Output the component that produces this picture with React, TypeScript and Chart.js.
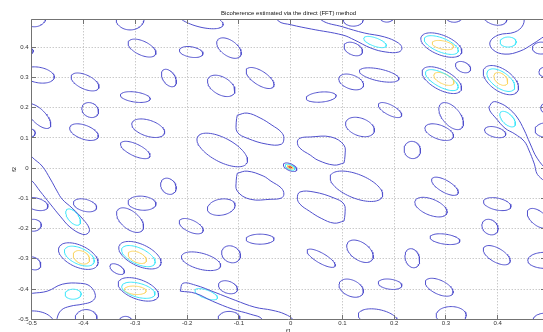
import React, { useEffect, useRef } from "react";
import { Chart, registerables } from "chart.js";

Chart.register(...registerables);

const TITLE = "Bicoherence estimated via the direct (FFT) method";
const X_LABEL = "f1";
const Y_LABEL = "f2";

const X_MIN = -0.5;
const X_MAX = 0.4922;
const Y_MIN = -0.5;
const Y_MAX = 0.4922;

const X_TICKS = [-0.5, -0.4, -0.3, -0.2, -0.1, 0, 0.1, 0.2, 0.3, 0.4];
const X_TICK_LABELS = ["-0.5", "-0.4", "-0.3", "-0.2", "-0.1", "0", "0.1", "0.2", "0.3", "0.4"];
const Y_TICKS = [-0.5, -0.4, -0.3, -0.2, -0.1, 0, 0.1, 0.2, 0.3, 0.4];
const Y_TICK_LABELS = ["-0.5", "-0.4", "-0.3", "-0.2", "-0.1", "0", "0.1", "0.2", "0.3", "0.4"];

// contour level colours (lowest -> highest)
const LEVEL_COLORS = ["rgb(80,80,205)", "rgb(60,230,250)", "rgb(250,212,95)", "rgb(205,45,35)"];

// elliptical contours: [centre f1, centre f2, semi-major, semi-minor (f1 units), tilt deg]
const LEVEL1_ELLIPSES = [
  [-0.495, 0.5, 0.023, 0.019, 0],
  [-0.505, 0.387, 0.008, 0.006, 0],
  [-0.31, 0.493, 0.027, 0.021, 0],
  [-0.287, 0.397, 0.029, 0.0135, 25],
  [-0.192, 0.384, 0.023, 0.01, 10],
  [-0.175, 0.493, 0.046, 0.015, 15],
  [-0.119, 0.397, 0.027, 0.015, 35],
  [-0.059, 0.298, 0.031, 0.0135, 33],
  [-0.487, 0.308, 0.031, 0.015, 10],
  [-0.397, 0.285, 0.029, 0.0135, 25],
  [-0.235, 0.298, 0.019, 0.0115, 55],
  [-0.134, 0.272, 0.029, 0.017, 30],
  [-0.3, 0.235, 0.029, 0.0097, 8],
  [-0.387, 0.192, 0.017, 0.0135, 30],
  [-0.487, 0.172, 0.031, 0.0135, 45],
  [-0.399, 0.119, 0.029, 0.0135, 20],
  [-0.275, 0.132, 0.033, 0.0155, 18],
  [-0.503, 0.116, 0.0097, 0.008, 0],
  [-0.3, 0.06, 0.031, 0.0116, 25],
  [-0.132, 0.06, 0.054, 0.023, 28],
  [0.121, 0.49, 0.019, 0.012, 0],
  [0.186, 0.5, 0.0135, 0.01, 0],
  [0.316, 0.503, 0.017, 0.012, 0],
  [0.395, 0.497, 0.023, 0.0135, 15],
  [0.121, 0.394, 0.019, 0.0115, 25],
  [0.291, 0.407, 0.042, 0.019, 22],
  [0.333, 0.334, 0.0155, 0.0097, 25],
  [0.292, 0.291, 0.042, 0.019, 28],
  [0.406, 0.291, 0.039, 0.021, 35],
  [0.484, 0.397, 0.017, 0.0115, 0],
  [0.493, 0.318, 0.0135, 0.0097, 0],
  [0.117, 0.285, 0.025, 0.0135, 20],
  [0.171, 0.308, 0.039, 0.0115, 12],
  [0.059, 0.235, 0.029, 0.0097, -5],
  [0.192, 0.192, 0.025, 0.0097, 28],
  [0.134, 0.136, 0.029, 0.017, 20],
  [0.31, 0.172, 0.031, 0.017, 50],
  [0.287, 0.119, 0.029, 0.0135, 20],
  [0.395, 0.119, 0.021, 0.0097, 15],
  [0.491, 0.126, 0.019, 0.0135, 0],
  [0.495, 0.199, 0.012, 0.01, 0],
  [0.235, 0.06, 0.017, 0.0155, 60],
  [-0.491, -0.119, 0.023, 0.0115, 15],
  [-0.497, -0.189, 0.0155, 0.0115, 0],
  [-0.397, -0.123, 0.023, 0.0115, 15],
  [-0.31, -0.172, 0.031, 0.017, 40],
  [-0.287, -0.116, 0.027, 0.0135, 5],
  [-0.236, -0.06, 0.017, 0.0135, 50],
  [-0.192, -0.192, 0.025, 0.0115, 25],
  [-0.134, -0.129, 0.027, 0.0155, -10],
  [-0.059, -0.235, 0.027, 0.0097, 0],
  [-0.115, -0.285, 0.019, 0.0155, 30],
  [-0.173, -0.308, 0.039, 0.0155, 15],
  [-0.41, -0.291, 0.041, 0.021, 25],
  [-0.291, -0.288, 0.044, 0.021, 25],
  [-0.335, -0.334, 0.0155, 0.008, 30],
  [-0.497, -0.315, 0.0155, 0.0115, 30],
  [-0.507, -0.53, 0.052, 0.033, -10],
  [-0.294, -0.401, 0.041, 0.019, 20],
  [-0.395, -0.497, 0.021, 0.017, 0],
  [-0.319, -0.51, 0.0135, 0.0115, 0],
  [-0.121, -0.394, 0.019, 0.0115, 20],
  [-0.119, -0.497, 0.021, 0.0135, 0],
  [-0.001, 0.003, 0.014, 0.0065, 25],
  [0.127, -0.06, 0.054, 0.023, 22],
  [0.059, -0.298, 0.031, 0.0097, 30],
  [0.134, -0.275, 0.029, 0.017, 35],
  [0.117, -0.397, 0.025, 0.0155, 25],
  [0.192, -0.384, 0.023, 0.0097, 8],
  [0.169, -0.497, 0.039, 0.017, 12],
  [0.235, -0.298, 0.019, 0.0135, 70],
  [0.271, -0.129, 0.033, 0.0155, 22],
  [0.298, -0.06, 0.029, 0.0115, 30],
  [0.298, -0.235, 0.029, 0.0097, 8],
  [0.287, -0.394, 0.029, 0.0135, 25],
  [0.31, -0.487, 0.029, 0.017, 0],
  [0.399, -0.119, 0.027, 0.0115, 12],
  [0.385, -0.195, 0.017, 0.0135, 40],
  [0.398, -0.288, 0.029, 0.0135, 30],
  [0.478, -0.166, 0.025, 0.0135, 40],
  [0.491, -0.305, 0.033, 0.0155, 0],
  [0.491, -0.503, 0.023, 0.0135, 0],
];

const LEVEL2_ELLIPSES = [
  [0.163, 0.417, 0.023, 0.008, 20],
  [0.291, 0.407, 0.035, 0.0135, 22],
  [0.292, 0.291, 0.035, 0.0135, 28],
  [0.406, 0.291, 0.031, 0.0155, 35],
  [0.42, 0.417, 0.0155, 0.0097, 0],
  [0.419, 0.162, 0.019, 0.0097, 45],
  [-0.42, -0.162, 0.019, 0.0097, 50],
  [-0.408, -0.291, 0.031, 0.0155, 25],
  [-0.294, -0.291, 0.035, 0.0155, 25],
  [-0.42, -0.417, 0.0155, 0.0097, 0],
  [-0.294, -0.404, 0.033, 0.0135, 15],
  [-0.163, -0.417, 0.023, 0.008, 20],
  [-0.001, 0.003, 0.01, 0.0045, 25],
];

const LEVEL3_ELLIPSES = [
  [0.294, 0.407, 0.021, 0.008, 12],
  [0.296, 0.295, 0.021, 0.0097, 25],
  [0.406, 0.295, 0.0155, 0.0097, 40],
  [-0.404, -0.295, 0.017, 0.0115, 30],
  [-0.296, -0.295, 0.019, 0.0097, 25],
  [-0.3, -0.404, 0.021, 0.008, 5],
  [-0.001, 0.003, 0.006, 0.003, 25],
];

const LEVEL4_ELLIPSES = [[-0.001, 0.003, 0.003, 0.0015, 25]];

// irregular lowest-level contours as [f1, f2] vertices
const BAND_TOP = [
  [-0.032, 0.523], [-0.024, 0.487], [0.001, 0.474], [0.04, 0.46], [0.101, 0.44], [0.123, 0.424],
  [0.155, 0.397], [0.184, 0.384], [0.209, 0.384], [0.215, 0.397], [0.208, 0.414], [0.181, 0.434],
  [0.142, 0.447], [0.101, 0.467], [0.059, 0.49], [0.053, 0.523],
];
const BAND_TOP_RIGHT = [
  [0.451, 0.51], [0.449, 0.474], [0.433, 0.45], [0.401, 0.44], [0.385, 0.417], [0.391, 0.391],
  [0.414, 0.377], [0.443, 0.387], [0.468, 0.411], [0.491, 0.437], [0.511, 0.457], [0.511, 0.51],
];
const BAND_RIGHT = [
  [0.383, 0.202], [0.391, 0.219], [0.404, 0.215], [0.42, 0.199], [0.437, 0.169], [0.451, 0.126],
  [0.462, 0.083], [0.476, 0.033], [0.497, -0.007], [0.52, -0.023], [0.511, -0.056], [0.479, -0.026],
  [0.47, 0.017], [0.46, 0.06], [0.451, 0.089], [0.433, 0.113], [0.414, 0.132], [0.396, 0.166],
  [0.385, 0.189],
];
const BAND_LEFT = [
  [-0.513, 0.066], [-0.499, 0.036], [-0.48, 0.007], [-0.464, -0.036], [-0.451, -0.076],
  [-0.441, -0.103], [-0.422, -0.132], [-0.401, -0.169], [-0.389, -0.199], [-0.391, -0.215],
  [-0.402, -0.219], [-0.426, -0.195], [-0.445, -0.159], [-0.464, -0.119], [-0.484, -0.076],
  [-0.499, -0.043], [-0.513, -0.026],
];
const BAND_BOTTOM_LEFT = [
  [-0.513, -0.417], [-0.499, -0.414], [-0.47, -0.407], [-0.441, -0.384], [-0.406, -0.381],
  [-0.387, -0.391], [-0.377, -0.421], [-0.383, -0.44], [-0.402, -0.45], [-0.426, -0.457],
  [-0.443, -0.47], [-0.451, -0.497], [-0.453, -0.536], [-0.513, -0.536],
];
const BAND_BOTTOM = [
  [-0.213, -0.407], [-0.208, -0.381], [-0.184, -0.387], [-0.146, -0.411], [-0.107, -0.437],
  [-0.069, -0.46], [-0.036, -0.47], [-0.011, -0.483], [0.005, -0.503], [0.005, -0.536],
  [-0.059, -0.536], [-0.055, -0.5], [-0.078, -0.483], [-0.111, -0.467], [-0.151, -0.44],
  [-0.184, -0.414],
];
const BLOB_UPPER_LEFT = [
  [-0.103, 0.175], [-0.084, 0.182], [-0.059, 0.166], [-0.036, 0.142], [-0.018, 0.119],
  [-0.013, 0.099], [-0.018, 0.079], [-0.045, 0.079], [-0.084, 0.099], [-0.103, 0.119], [-0.105, 0.152],
];
const BLOB_LOWER_RIGHT = [
  [0.103, -0.175], [0.084, -0.182], [0.059, -0.166], [0.036, -0.142], [0.018, -0.119],
  [0.013, -0.099], [0.018, -0.079], [0.045, -0.079], [0.084, -0.099], [0.103, -0.119], [0.105, -0.152],
];
const BLOB_LOWER_LEFT = [
  [-0.103, -0.017], [-0.084, -0.01], [-0.053, -0.026], [-0.038, -0.043], [-0.018, -0.066],
  [-0.013, -0.086], [-0.018, -0.099], [-0.038, -0.103], [-0.078, -0.103], [-0.103, -0.076], [-0.105, -0.04],
];
const BLOB_UPPER_RIGHT = [
  [0.103, 0.017], [0.084, 0.01], [0.053, 0.026], [0.038, 0.043], [0.018, 0.066],
  [0.013, 0.086], [0.018, 0.099], [0.038, 0.103], [0.078, 0.103], [0.103, 0.076], [0.105, 0.04],
];
const LEVEL1_SHAPES = [
  BAND_TOP, BAND_TOP_RIGHT, BAND_RIGHT, BAND_LEFT, BAND_BOTTOM_LEFT, BAND_BOTTOM,
  BLOB_UPPER_LEFT, BLOB_LOWER_RIGHT, BLOB_LOWER_LEFT, BLOB_UPPER_RIGHT,
];

// on-screen ratio of one f1 unit to one f2 unit (plot is wider than tall)
const ASPECT = 517.8 / 302.4;
const FONT = '"Liberation Sans", Arial, Helvetica, sans-serif';

function ellipseOutline(e: number[]) {
  const [cx, cy, a, b, tilt] = e;
  const t = (tilt * Math.PI) / 180;
  const pts: { x: number; y: number }[] = [];
  const n = 72;
  for (let i = 0; i <= n; i++) {
    const p = (2 * Math.PI * i) / n;
    const u = a * Math.cos(p);
    const w = b * Math.sin(p);
    const dx = u * Math.cos(t) - w * Math.sin(t);
    const dy = u * Math.sin(t) + w * Math.cos(t);
    pts.push({ x: cx + dx, y: cy - dy * ASPECT });
  }
  return pts;
}

function shapeOutline(s: number[][]) {
  const pts = s.map(([x, y]) => ({ x, y }));
  pts.push({ x: s[0][0], y: s[0][1] });
  return pts;
}

const framePlugin = {
  id: "matlabFrame",
  beforeDatasetsDraw(chart: any) {
    const { ctx, chartArea, scales } = chart;
    const { left, right, top, bottom } = chartArea;
    ctx.save();
    ctx.strokeStyle = "rgb(178,178,178)";
    ctx.lineWidth = 1;
    ctx.setLineDash([1, 2]);
    X_TICKS.forEach((v) => {
      const p = Math.floor(scales.x.getPixelForValue(v)) + 0.5;
      if (p <= left + 1) return;
      ctx.beginPath();
      ctx.moveTo(p, top);
      ctx.lineTo(p, bottom);
      ctx.stroke();
    });
    Y_TICKS.forEach((v) => {
      const p = Math.floor(scales.y.getPixelForValue(v)) + 0.5;
      if (p >= bottom - 1) return;
      ctx.beginPath();
      ctx.moveTo(left, p);
      ctx.lineTo(right, p);
      ctx.stroke();
    });
    ctx.restore();
  },
  afterDatasetsDraw(chart: any) {
    const { ctx, chartArea, scales } = chart;
    const L = Math.floor(chartArea.left) + 0.5;
    const R = Math.floor(chartArea.right) + 0.5;
    const T = Math.floor(chartArea.top) + 0.5;
    const B = Math.floor(chartArea.bottom) + 0.5;
    ctx.save();
    ctx.setLineDash([]);
    ctx.strokeStyle = "rgb(115,115,115)";
    ctx.lineWidth = 1;
    ctx.beginPath();
    ctx.rect(L, T, R - L, B - T);
    ctx.stroke();
    const tl = 4.5;
    X_TICKS.forEach((v) => {
      const p = Math.floor(scales.x.getPixelForValue(v)) + 0.5;
      ctx.beginPath();
      ctx.moveTo(p, B);
      ctx.lineTo(p, B - tl);
      ctx.moveTo(p, T);
      ctx.lineTo(p, T + tl);
      ctx.stroke();
    });
    Y_TICKS.forEach((v) => {
      const p = Math.floor(scales.y.getPixelForValue(v)) + 0.5;
      ctx.beginPath();
      ctx.moveTo(L, p);
      ctx.lineTo(L + tl, p);
      ctx.moveTo(R, p);
      ctx.lineTo(R - tl, p);
      ctx.stroke();
    });
    ctx.restore();
  },
  afterDraw(chart: any) {
    const { ctx, chartArea } = chart;
    const cxm = (chartArea.left + chartArea.right) / 2;
    const cym = (chartArea.top + chartArea.bottom) / 2;
    ctx.save();
    ctx.fillStyle = "rgb(20,20,20)";
    ctx.font = `6px ${FONT}`;
    ctx.textAlign = "center";
    ctx.textBaseline = "alphabetic";
    ctx.fillText(TITLE, cxm, 15.3);
    ctx.textBaseline = "top";
    ctx.fillText(X_LABEL, cxm, 328.5);
    ctx.translate(14, cym);
    ctx.rotate(-Math.PI / 2);
    ctx.textBaseline = "middle";
    ctx.fillText(Y_LABEL, 0, 0);
    ctx.restore();
  },
};

export default function App() {
  const ref = useRef<HTMLCanvasElement | null>(null);

  useEffect(() => {
    const canvas = ref.current;
    if (!canvas) return;
    const lineDs = (data: any[], level: number, tension: number) => ({
      data,
      showLine: true,
      borderColor: LEVEL_COLORS[level],
      backgroundColor: LEVEL_COLORS[level],
      borderWidth: 1,
      pointRadius: 0,
      pointHoverRadius: 0,
      fill: false,
      tension,
      clip: 0,
    });
    const datasets: any[] = [];
    LEVEL1_ELLIPSES.forEach((e) => datasets.push(lineDs(ellipseOutline(e), 0, 0)));
    LEVEL1_SHAPES.forEach((s) => datasets.push(lineDs(shapeOutline(s), 0, 0.4)));
    LEVEL2_ELLIPSES.forEach((e) => datasets.push(lineDs(ellipseOutline(e), 1, 0)));
    LEVEL3_ELLIPSES.forEach((e) => datasets.push(lineDs(ellipseOutline(e), 2, 0)));
    LEVEL4_ELLIPSES.forEach((e) => datasets.push(lineDs(ellipseOutline(e), 3, 0)));

    const chart = new Chart(canvas, {
      type: "scatter",
      data: { datasets },
      plugins: [framePlugin],
      options: {
        animation: false,
        responsive: false,
        devicePixelRatio: 1,
        events: [],
        layout: { padding: { top: 19.3, right: 14.5, bottom: 0, left: 0 } },
        plugins: {
          legend: { display: false },
          tooltip: { enabled: false },
          title: { display: false },
        },
        scales: {
          x: {
            type: "linear",
            min: X_MIN,
            max: X_MAX,
            grid: { display: false, drawTicks: false },
            border: { display: false },
            afterFit: (s: any) => {
              s.height = 12.7;
            },
            afterBuildTicks: (s: any) => {
              s.ticks = X_TICKS.map((v) => ({ value: v }));
            },
            ticks: {
              autoSkip: false,
              maxRotation: 0,
              padding: 0,
              color: "rgb(50,50,50)",
              font: { size: 6, family: FONT },
              callback: (_v: any, i: number) => X_TICK_LABELS[i],
            },
          },
          y: {
            type: "linear",
            min: Y_MIN,
            max: Y_MAX,
            grid: { display: false, drawTicks: false },
            border: { display: false },
            afterFit: (s: any) => {
              s.width = 31.7;
            },
            afterBuildTicks: (s: any) => {
              s.ticks = Y_TICKS.map((v) => ({ value: v }));
            },
            ticks: {
              autoSkip: false,
              padding: 3,
              color: "rgb(50,50,50)",
              font: { size: 6, family: FONT },
              callback: (_v: any, i: number) => Y_TICK_LABELS[i],
            },
          },
        },
      } as any,
    });
    return () => chart.destroy();
  }, []);

  return (
    <div
      style={{
        position: "fixed",
        left: 0,
        top: 0,
        width: 543,
        height: 332,
        overflow: "hidden",
        background: "#fff",
      }}
    >
      <canvas ref={ref} width={560} height={332} style={{ display: "block", width: 560, height: 332 }} />
    </div>
  );
}
